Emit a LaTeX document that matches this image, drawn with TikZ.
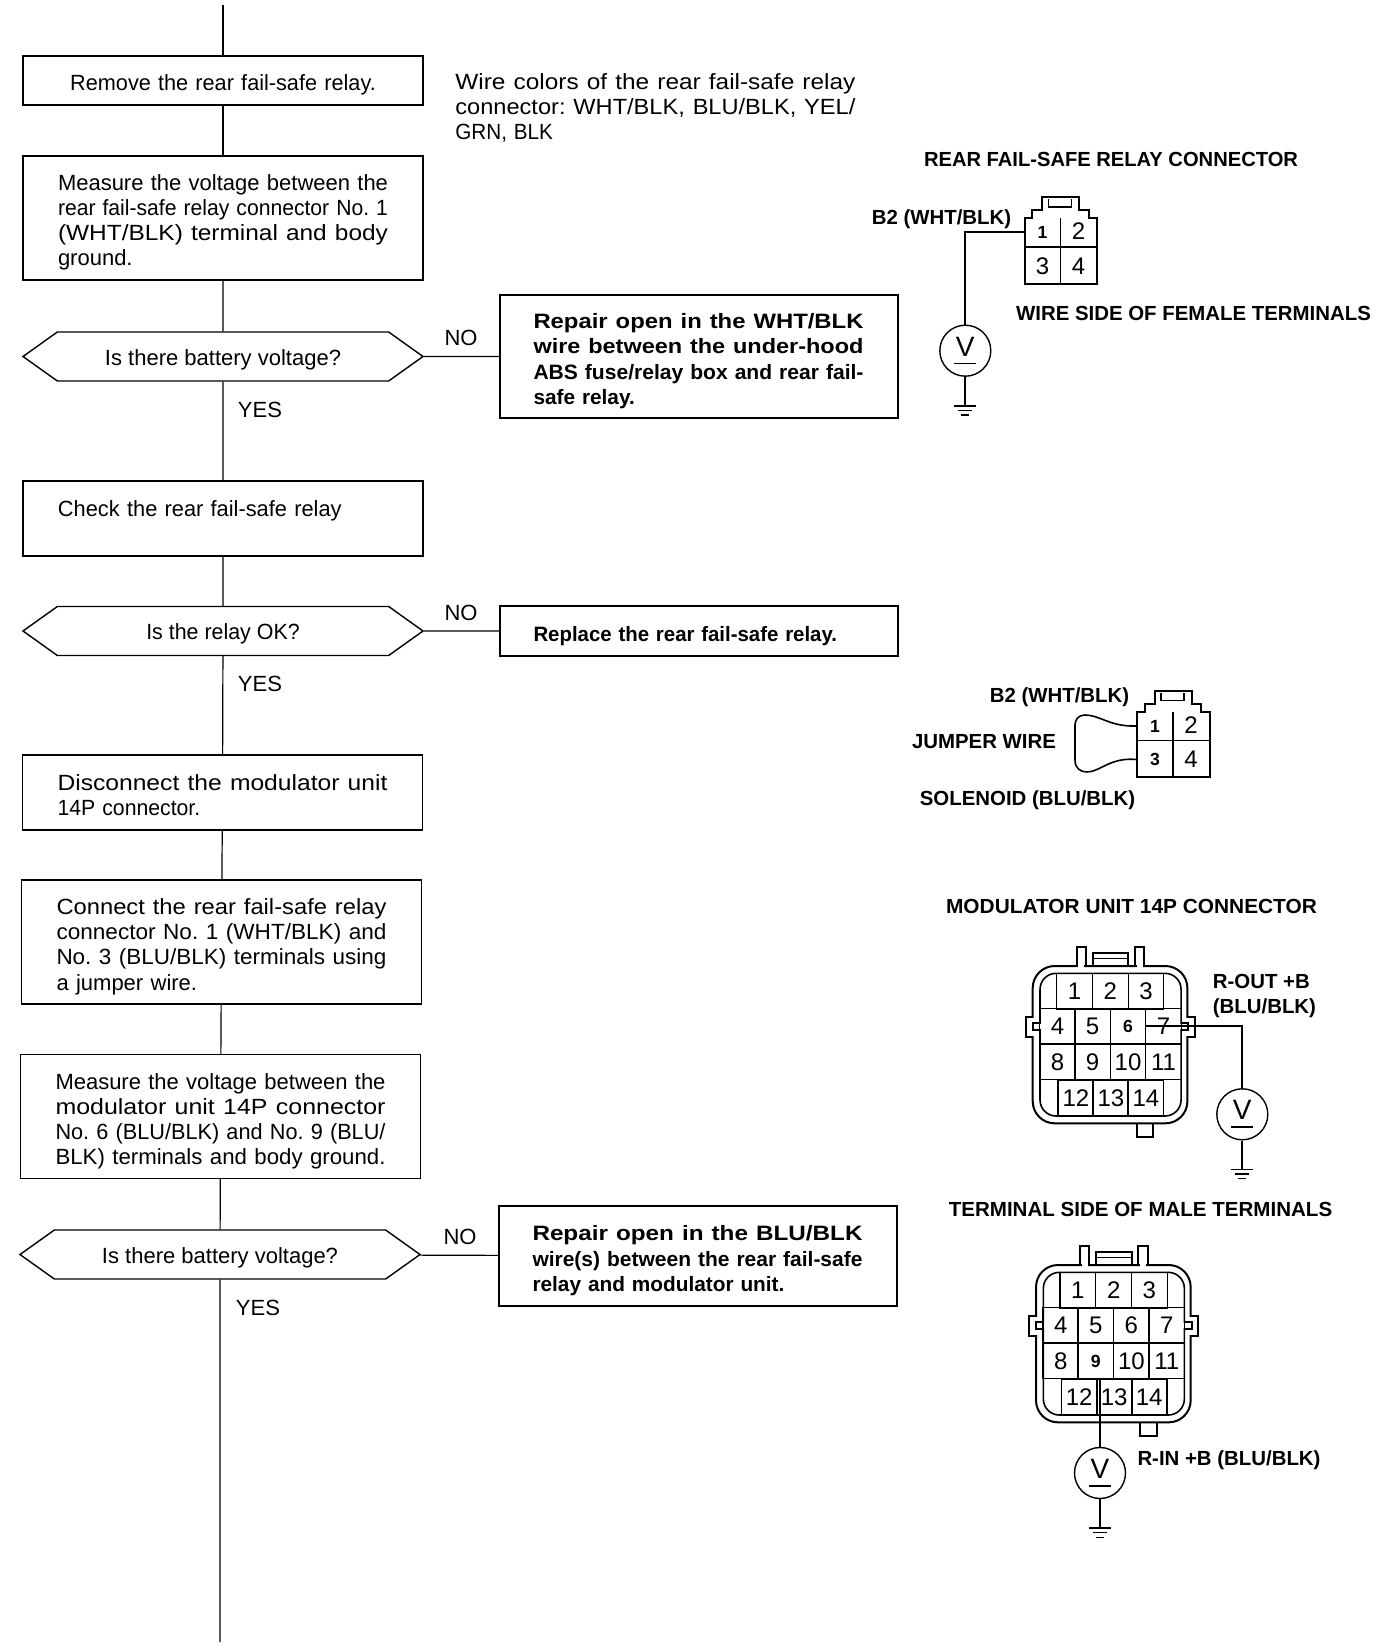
\documentclass[tikz,border=0pt]{standalone}
\usepackage{fontspec}
\usepackage{graphicx}
\setmainfont{Liberation Sans}
\usetikzlibrary{shapes.symbols,calc}
\newcommand{\bodyfont}{\fontsize{11}{12.6}\selectfont}
\newcommand{\repairfont}{\fontsize{10.4}{12.6}\selectfont\bfseries}
\newcommand{\capsfont}{\fontsize{10.2}{12.5}\selectfont\bfseries}
\newcommand{\pinbold}{\fontsize{8.8}{9}\selectfont\bfseries}
\newcommand{\jline}[2][165pt]{\resizebox{#1}{\height}{\frenchspacing #2}}
\newcommand{\gnd}[1]{
\draw[line width=.8pt] (#1) ++(-11,0) -- ++(22,0);
\draw[line width=.7pt] (#1) ++(-7,4.5) -- ++(14,0);
\draw[line width=.7pt] (#1) ++(-4,9) -- ++(8,0);
}
\newcommand{\relayconn}[3]{
\begin{scope}[shift={#2}]
\draw[line width=1pt] (0,0)--(7.5,0)--(7.5,-7.5)--(17.5,-7.5)--(17.5,-20.5)--(54.5,-20.5)--(54.5,-7.5)--(64,-7.5)--(64,0)--(72.5,0)--(72.5,65.5)--(0,65.5)--cycle;
\draw[line width=.6pt] (24,-18.5)--(24,-11)--(47,-11)--(47,-18.5);
\draw[line width=.8pt] (36,0)--(36,65.5);
\draw[line width=.6pt] (0,29)--(72.5,29);
\node[pinnum] (#11) at (18,14.5) {\pinbold 1};
\node[pinnum] (#12) at (54,13.5) {2};
\node[pinnum] (#13) at (18,48) {#3};
\node[pinnum] (#14) at (54,48) {4};
\end{scope}
}
\newcommand{\modconn}[3]{
\begin{scope}[shift={#2},x=.16667pt,y=-.16667pt]
\draw[line width=1pt,rounded corners=11pt] (0,0) rectangle (464,472);
\draw[line width=.8pt,rounded corners=8pt] (22,22) rectangle (445,450);
\fill[white] (-6,155) rectangle (6,209);
\fill[white] (16,175) rectangle (28,189);
\fill[white] (458,155) rectangle (470,209);
\fill[white] (439,175) rectangle (451,189);
\fill[white] (137,-6) rectangle (155,6);
\fill[white] (312,-6) rectangle (330,6);
\draw[line width=.9pt] (0,152)--(-21,152)--(-21,212)--(0,212);
\draw[line width=.9pt] (22,172)--(0,172)--(0,192)--(22,192);
\draw[line width=.9pt] (464,152)--(487,152)--(487,212)--(464,212);
\draw[line width=.9pt] (445,172)--(467,172)--(467,192)--(445,192);
\draw[line width=.9pt] (132,0)--(132,-58)--(160,-58)--(160,0);
\draw[line width=.9pt] (307,0)--(307,-58)--(335,-58)--(335,0);
\draw[line width=.9pt] (180,0)--(180,-38)--(287,-38)--(287,0);
\draw[line width=.5pt] (180,-23)--(287,-23);
\draw[line width=.9pt] (312,472)--(312,512)--(362,512)--(362,472);
\foreach \n/\cx/\cy in {1/125.5/75.5,2/233/75.5,3/340/75.5,
4/74.5/180.5,5/179.5/180.5,6/286/180.5,7/392.5/180.5,
8/74.5/288,9/179.5/288,10/286/288,11/392.5/288,
12/129.5/396,13/234.5/396,14/339.5/396}
\node[pincell] (#1\n) at (\cx,\cy) {\ifnum\n=#3 \pinbold\fi\n};
\end{scope}
}
\begin{document}
\begin{tikzpicture}
[x=.5pt,y=-.5pt,
drop/.code = {\def\dropheight{#1}},
flowbox/.style = {draw, line width=.7pt, text width=165pt, inner xsep=17.5pt, inner ysep=0pt, align=left, font=\bodyfont, drop=12.2pt, execute at begin node={\rule{0pt}{\dropheight}}},
repairbox/.style = {flowbox, text width=165.5pt, inner xsep=16.75pt, font=\repairfont},
askbox/.style = {draw, line width=.7pt, signal, signal to=west and east, signal pointer angle=71, minimum width=200pt, minimum height=24.5pt, inner sep=0pt, font=\bodyfont, drop=11.2pt, execute at begin node={\rule{0pt}{\dropheight}}},
flowlabel/.style = {inner sep=0pt, font=\bodyfont},
capslabel/.style = {inner sep=0pt, font=\capsfont, text height=7.3pt, text depth=0pt},
pinnum/.style = {inner sep=0pt, minimum width=18pt, minimum height=14.5pt, font=\fontsize{12}{12}\selectfont},
pincell/.style = {draw, line width=.6pt, inner sep=0pt, minimum width=17.8pt, minimum height=17.8pt, font=\fontsize{12}{12}\selectfont},
meter/.style = {draw, circle, line width=.7pt, minimum size=25.5pt, inner sep=0pt, align=center, font=\fontsize{14}{11}\selectfont},
wire/.style = {line width=1pt},
flowline/.style = {line width=.6pt}]
\useasboundingbox (0,0) rectangle (1376,1648);
% flow chart
\coordinate (start) at (223,5);
\node (remove) at (223,80.5)[flowbox,align=center,minimum height=24.5pt] {\jline[152.8pt]{Remove the rear fail-safe relay.}};
\node (measure) at (223,218)[flowbox,minimum height=62pt] {\jline{Measure the voltage between the}\\\jline{rear fail-safe relay connector No. 1}\\\jline{(WHT/BLK) terminal and body}\\ground.};
\node (askbatt) at (223,356.5)[askbox] {Is there battery voltage?};
\node (check) at (223,518.5)[flowbox,minimum height=37.5pt,drop=10.2pt] {\jline[141.8pt]{Check the rear fail-safe relay}\\\mbox{}};
\node (askrelay) at (223,631)[askbox] {\jline[76.7pt]{Is the relay OK?}};
\node (disconnect) at (222.5,792.5)[flowbox,minimum height=37.5pt,drop=10.2pt] {\jline{Disconnect the modulator unit}\\\jline[71.4pt]{14P connector.}};
\node (connect) at (221.5,942)[flowbox,minimum height=62pt,drop=12.6pt] {\jline{Connect the rear fail-safe relay}\\\jline{connector No. 1 (WHT/BLK) and}\\\jline{No. 3 (BLU/BLK) terminals using}\\a jumper wire.};
\node (measuremod) at (220.5,1116.5)[flowbox,minimum height=62pt,drop=12.6pt] {\jline{Measure the voltage between the}\\\jline{modulator unit 14P connector}\\\jline{No. 6 (BLU/BLK) and No. 9 (BLU/}\\\jline{BLK) terminals and body ground.}};
\node (askmod) at (220,1254.5)[askbox] {Is there battery voltage?};
\coordinate (finish) at (220,1642);
\node (repairwht) at (699,356.5)[repairbox,minimum height=61.5pt] {\jline{Repair open in the WHT/BLK}\\\jline{wire between the under-hood}\\\jline{ABS fuse/relay box and rear fail-}\\safe relay.};
\node (replace) at (699,631)[repairbox,minimum height=25pt,drop=13pt] {\jline[151.8pt]{Replace the rear fail-safe relay.}};
\node (repairblu) at (698,1256)[repairbox,minimum height=50pt] {\jline{Repair open in the BLU/BLK}\\\jline{wire(s) between the rear fail-safe}\\relay and modulator unit.};
\draw[flowline] (start)--(remove);
\draw[flowline] (remove)--(measure);
\draw[flowline] (measure)--(askbatt);
\draw[flowline] (askbatt)--(check);
\draw[flowline] (check)--(askrelay);
\draw[flowline] (askrelay)--(disconnect);
\draw[flowline] (disconnect)--(connect);
\draw[flowline] (connect)--(measuremod);
\draw[flowline] (measuremod)--(askmod);
\draw[flowline] (askmod)--(finish);
\draw[flowline] (askbatt)--(repairwht);
\draw[flowline] (askrelay)--(replace);
\draw[flowline] (askmod)--(repairblu);
\node (no1) at (461,338)[flowlabel] {NO};
\node (yes1) at (260,409.5)[flowlabel] {YES};
\node (no2) at (461,612.5)[flowlabel] {NO};
\node (yes2) at (260,683.5)[flowlabel] {YES};
\node (no3) at (460,1236.5)[flowlabel] {NO};
\node (yes3) at (258,1307.5)[flowlabel] {YES};
\node (colornote) at (455,108)[flowlabel,anchor=west,align=left,text width=200pt] {\jline[200pt]{Wire colors of the rear fail-safe relay}\\\jline[200pt]{connector: WHT/BLK, BLU/BLK, YEL/}\\\jline[48.8pt]{GRN, BLK}};
% relay connector
\node (relaytitle) at (1111,159)[capslabel] {\jline[187pt]{REAR FAIL-SAFE RELAY CONNECTOR}};
\node (b2one) at (941.5,217)[capslabel] {B2 (WHT/BLK)};
\node (wireside) at (1193.5,313)[capslabel] {WIRE SIDE OF FEMALE TERMINALS};
\relayconn{r}{(1024.5,218)}{3}
\node (volta) at (965.3,350.7)[meter] {V\\[-7pt]\rule{11pt}{.8pt}};
\draw[wire] (r1.west)-|(volta.north);
\draw[wire] (volta.south)--++(0,29) coordinate (gnda);
\gnd{gnda}
% jumper
\node (b2two) at (1059.5,695)[capslabel] {B2 (WHT/BLK)};
\node (jumper) at (984,741.5)[capslabel] {JUMPER WIRE};
\node (solenoid) at (1027.5,798)[capslabel] {SOLENOID (BLU/BLK)};
\relayconn{j}{(1137,711.5)}{\pinbold 3}
\draw[line width=.8pt] (j1.west) .. controls (1110,727) and (1100,715) .. (1085,715) .. controls (1078,715) and (1075,720) .. (1075,725) -- (1075,760) .. controls (1075,768) and (1080,772) .. (1087,772) .. controls (1100,772) and (1110,757) .. (j3.west);
% 14P connector, wire side
\node (modtitle) at (1131.5,906)[capslabel] {\jline[185.4pt]{MODULATOR UNIT 14P CONNECTOR}};
\modconn{m}{(1032.7,966)}{6}
\node (rout) at (1212.5,996)[flowlabel,anchor=west,align=left,font=\capsfont] {R-OUT +B\\(BLU/BLK)};
\node (voltb) at (1242.3,1114.3)[meter] {V\\[-7pt]\rule{11pt}{.8pt}};
\draw[wire] (m6.east)-|(voltb.north);
\draw[wire] (voltb.south)--++(0,29) coordinate (gndb);
\gnd{gndb}
% 14P connector, terminal side
\node (termtitle) at (1140.5,1209)[capslabel] {\jline[191.7pt]{TERMINAL SIDE OF MALE TERMINALS}};
\modconn{t}{(1036,1265)}{9}
\node (rin) at (1229,1458)[capslabel] {R-IN +B (BLU/BLK)};
\node (voltc) at (1100,1473)[meter] {V\\[-7pt]\rule{11pt}{.8pt}};
\draw[wire] (voltc.north |- t9.south)--(voltc.north);
\draw[wire] (voltc.south)--++(0,29) coordinate (gndc);
\gnd{gndc}
\end{tikzpicture}
\end{document}
